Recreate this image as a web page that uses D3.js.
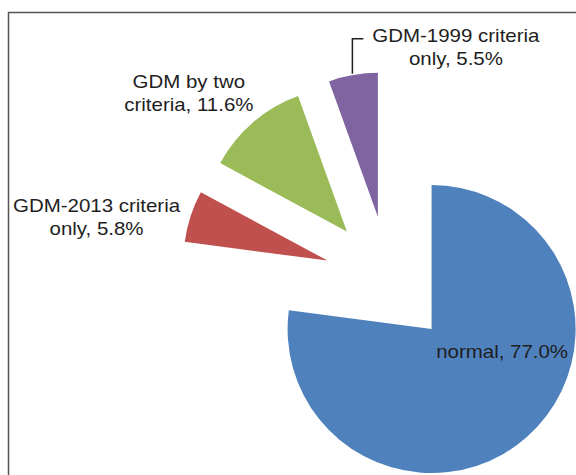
<html lang="en">
<head>
    <meta charset="utf-8">
    <title>GDM criteria</title>
    <script src="https://cdn.jsdelivr.net/npm/d3@7"></script>
    <style>
        body { margin: 0; background: #fff; }
        .lbl { font-family: "Liberation Sans", Arial, sans-serif; font-size: 18.6px; fill: #1e1e1e; }
    </style>
</head>
<body>
    <svg width="576" height="475"></svg>
    <script>
        // slice data, clockwise from 12 o'clock
        var names = ["normal", "GDM-2013 criteria only", "GDM by two criteria", "GDM-1999 criteria only"];
        var values = [77.0, 5.8, 11.6, 5.5];
        var colors = ["#4F81BD", "#C0504D", "#9BBB59", "#8064A2"];
        // label lines as shown in the chart
        var labelLines = [
            ["normal, 77.0%"],
            ["GDM-2013 criteria", "only, 5.8%"],
            ["GDM by two", "criteria, 11.6%"],
            ["GDM-1999 criteria", "only, 5.5%"]
        ];

        var svg = d3.select("svg"),
            cx = 389, cy = 280.5,
            radius = 144,
            explode = 64.6;

        // chart frame (runs off right/bottom edge)
        svg.append("rect")
            .attr("x", 8.5).attr("y", 12.5)
            .attr("width", 600).attr("height", 500)
            .attr("fill", "none")
            .attr("stroke", "#555")
            .attr("stroke-width", 1.5);

        var pie = d3.pie().sort(null).value(function(d) { return d; });
        var arcs = pie(values);

        var arc = d3.arc().innerRadius(0).outerRadius(radius);

        function offset(d) {
            var a = (d.startAngle + d.endAngle) / 2;
            return [cx + explode * Math.sin(a), cy - explode * Math.cos(a)];
        }

        var g = svg.append("g");
        g.selectAll("path")
            .data(arcs)
            .enter().append("path")
            .attr("transform", function(d) { var o = offset(d); return "translate(" + o[0] + "," + o[1] + ")"; })
            .attr("d", arc)
            .attr("fill", function(d, i) { return colors[i]; });

        // label anchor (centre of first baseline), relative to each slice's apex
        var labelPos = [[70.5, 29], [-231, -49], [-158, -144], [78, -175]];
        var lineGap = 23.5;

        arcs.forEach(function(d, i) {
            var o = offset(d);
            var lx = o[0] + labelPos[i][0], ly = o[1] + labelPos[i][1];
            var t = svg.append("text")
                .attr("class", "lbl")
                .attr("text-anchor", "middle")
                .attr("transform", "translate(" + lx + "," + ly + ") scale(1.1,1)");
            labelLines[i].forEach(function(s, j) {
                t.append("tspan").attr("x", 0).attr("y", j * lineGap).text(s);
            });
        });

        // leader line for the small purple slice
        var p = offset(arcs[3]);
        var leaderTop = p[1] + labelPos[3][1] - 3;
        svg.append("path")
            .attr("d", "M" + (p[0] - 25.5) + "," + (p[1] - radius + 1) + "V" + leaderTop + "h11")
            .attr("fill", "none")
            .attr("stroke", "#1e1e1e")
            .attr("stroke-width", 1.5);
    </script>
</body>
</html>
